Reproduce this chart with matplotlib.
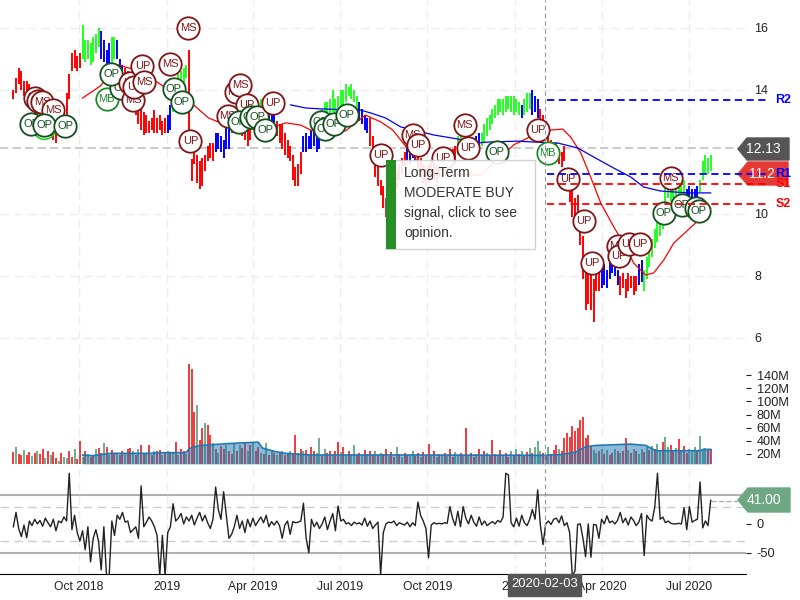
import matplotlib
matplotlib.use("Agg")
import matplotlib.pyplot as plt
import matplotlib.dates as mdates
from matplotlib.patches import Polygon, Rectangle
import numpy as np
import pandas as pd

plt.rcParams['font.family'] = ['Liberation Sans', 'DejaVu Sans']

# (low, high) of each bar, left to right
price_bars = [
    (13.7,14.0),(13.9,14.4),(14.2,14.7),
    (14.0,14.6),(13.8,14.3),(13.9,14.3),(13.7,14.2),
    (13.6,14.0),(13.2,13.8),(13.1,13.7),(12.9,13.5),(12.7,13.4),(12.6,13.2),(12.7,13.3),(12.5,13.2),(12.4,13.1),
    (12.3,13.0),(12.5,13.1),(12.6,13.2),(12.9,13.4),
    (13.2,13.9),(13.7,14.5),
    (14.6,15.2),(14.7,15.3),(14.6,15.1),(14.7,15.2),
    (15.0,16.1),
    (14.9,15.6),(15.0,15.6),(14.8,15.5),(14.9,15.7),(15.2,15.8),
    (15.4,16.0),(15.0,15.9),(14.9,15.6),(14.7,15.3),
    (14.8,15.5),(14.8,15.7),(15.0,15.7),(15.0,15.6),
    (14.3,15.0),(14.2,14.8),(14.0,14.7),
    (13.7,14.6),(13.5,14.2),(13.3,14.0),(13.2,13.8),(12.9,13.7),(12.7,13.4),(12.55,13.3),(12.6,13.2),(12.6,13.0),(12.7,13.1),(12.6,13.35),(12.6,13.1),(12.7,13.2),(12.55,13.0),(12.6,13.1),
    (12.6,13.2),(12.7,13.5),
    (13.3,14.0),(13.9,14.4),
    (14.1,14.5),(14.0,14.6),(14.2,14.7),(14.4,14.8),
    (12.7,15.3),
    (11.06,11.77),
    (11.6,12.0),(11.0,11.9),(10.8,11.7),(10.9,11.8),(11.4,11.9),
    (11.7,12.2),(11.8,12.3),(11.7,12.3),
    (12.0,12.6),(12.1,12.6),(12.0,12.5),(11.8,12.4),(12.1,13.0),(12.1,12.9),
    (12.6,13.2),(12.8,13.4),(12.9,13.5),(12.7,13.3),(12.5,13.2),(12.4,13.0),(12.2,12.9),(12.4,13.0),
    (12.7,13.3),(12.9,13.4),(13.1,13.6),(13.1,13.7),(13.2,13.7),(13.0,13.5),(12.8,13.4),
    (12.8,13.3),(12.7,13.2),(12.5,13.0),(12.3,12.9),
    (12.1,12.9),(11.9,12.6),(11.8,12.4),(11.7,12.2),(11.1,11.9),(10.9,11.5),(10.9,11.6),
    (11.3,12.0),
    (12.0,12.5),(12.0,12.6),(12.1,12.5),(12.1,12.7),(12.2,13.0),(12.0,12.6),(12.1,12.7),
    (12.8,13.4),(13.1,13.6),(13.2,13.6),(13.1,13.7),(13.3,14.0),(13.2,13.7),(13.3,13.8),(13.3,14.0),(13.4,14.0),
    (13.6,14.2),(13.8,14.1),(13.7,14.2),(13.6,14.0),(13.3,13.8),
    (13.0,13.6),(12.9,13.4),(12.7,13.2),(12.6,13.1),
    (12.2,13.1),(11.9,12.5),
    (11.2,11.7),(10.9,11.5),(10.6,11.1),(10.2,10.9),(9.9,10.5),
    (10.0,10.7),(10.1,10.8),(10.3,11.0),
    (10.8,11.4),(11.1,11.6),(11.3,11.8),(11.5,12.0),(11.7,12.3),(11.6,12.1),(11.8,12.4),(11.7,12.3),(11.4,12.0),(11.2,11.8),(11.0,11.6),(10.9,11.5),(11.0,11.6),(11.2,11.7),(11.1,11.6),(11.0,11.6),(11.2,11.8),(11.4,11.9),(11.3,11.8),(11.4,11.9),(11.5,12.0),(11.6,12.1),(11.6,12.2),
    (11.9,12.5),(12.0,12.5),(11.9,12.4),
    (12.0,12.4),(11.8,12.3),(11.9,12.4),(12.0,12.4),(12.1,12.5),(12.2,12.6),
    (12.2,12.6),(12.3,12.9),(12.5,13.1),(12.7,13.2),(12.9,13.4),(13.1,13.5),(13.2,13.7),(13.3,13.7),
    (13.2,13.7),(13.3,13.8),(13.4,13.8),(13.3,13.8),(13.2,13.8),(13.3,13.7),(13.2,13.6),(13.1,13.5),(13.2,13.7),(13.3,13.9),(13.4,13.9),(13.2,14.0),(13.3,13.8),(13.1,13.7),
    (12.9,13.4),(12.7,13.2),(12.5,13.0),
    (12.1,12.7),(11.8,12.4),(11.7,12.2),(11.8,12.3),(11.6,12.1),(11.5,12.0),(11.7,12.2),
    (10.8,11.3),(10.4,11.1),(9.9,10.9),(9.6,10.5),(9.9,10.6),
    (9.0,9.7),(7.9,9.3),
    (6.9,8.4),(7.1,8.1),(6.9,8.2),(6.5,7.9),
    (7.5,8.3),(7.5,8.2),(7.6,8.3),(7.7,8.4),(7.6,8.2),
    (7.9,8.6),(8.1,8.8),(8.0,8.4),(7.7,8.2),
    (7.4,8.0),(7.6,8.1),(7.3,7.9),(7.5,8.1),(7.6,8.0),(7.4,8.0),(7.5,8.0),
    (7.7,8.4),(7.8,8.5),(7.5,8.2),
    (7.9,8.6),(8.3,8.9),(8.6,9.2),
    (8.9,9.5),(9.1,9.7),(9.3,9.9),(9.5,10.0),
    (10.4,10.9),(10.5,11.0),(10.4,10.8),(10.5,11.0),(10.6,11.0),(10.4,10.9),(10.5,11.0),(10.6,11.1),
    (10.4,10.8),(10.5,10.9),(10.4,10.8),(10.5,10.8),(10.5,10.9),
    (10.7,11.1),(11.1,11.7),
    (11.3,11.9),(11.3,11.8),(11.4,11.9),
]
# colour of the bars as runs
bar_runs = [
    ('r',26),('g',7),('b',4),('g',2),('b',3),('r',16),('b',2),('g',6),('r',10),('b',6),('r',10),
    ('g',4),('b',3),('r',10),('b',7),('g',14),('b',4),('r',14),('b',4),('r',15),('g',3),('b',6),
    ('g',15),('b',1),('g',3),('b',3),('r',23),('b',7),('r',7),('b',2),('g',16),('b',5),('g',5),
]

# moving averages, bar number and price
red_ma_bar = [26,32.7,39.1,45.9,54.5,60.9,67.7,73.3,77.8,85.3,91,96.6,102.3,107.9,112.4,124.8,128.6,132.3,138,142.5,145.5,153,160.5,168,175.6,183,188,193.2,197,202,206.4,209.4,213.2,216.9,220.7,225.6,230.8,233,237.6,240.6,244.4,248.1,253.4,258.3,262]
red_ma = [13.74,14.13,14.81,14.65,14.23,13.84,13.52,13.1,12.94,12.87,12.71,12.77,12.94,12.87,12.68,12.68,12.94,13.19,12.97,12.71,12.39,11.58,11.26,11.26,11.26,11.84,12.23,12.45,12.71,12.71,12.74,12.48,11.97,11.19,10.35,9.58,8.84,8.42,8.03,8.1,8.52,9.06,9.48,9.87,10.19]
blue_ma_bar = [104.1,109.8,115.4,130.5,134.2,139.8,145.5,157.9,166.9,174.4,178.2,189.5,195.5,204.5,212,218,225.6,232,236.8,243.2,253.4,262]
blue_ma = [13.52,13.42,13.39,13.35,13.26,13.1,12.81,12.55,12.42,12.29,12.32,12.35,12.32,12.29,12.13,11.84,11.48,11.19,10.87,10.74,10.68,10.68]

# opinion badges, in drawing order
badge_bar = [8.3,9.4,10.9,15,6.8,11.7,19.5,65.8,66.5,59,60.2,63.2,35,40.6,36.8,45.1,44,45.5,48.5,49.2,83.5,85.3,87.6,80.5,84.6,89.1,91.7,94.7,97.4,115.4,116.9,120.3,125.2,138,150,151.9,161.3,169.5,170.7,181.6,197,200.8,208.3,214.3,217.3,227,227.4,231.2,235.3,244.4,247,251.1,256.4,257.5]
badge_price = [13.74,13.65,13.61,13.35,12.9,12.87,12.84,16,12.35,14.84,14.03,13.61,13.71,14.06,14.52,13.68,14.23,14.1,14.77,14.26,13.94,14.16,13.52,13.16,12.97,13.13,13.13,12.71,13.58,12.97,12.74,12.9,13.19,11.9,12.55,12.23,11.81,12.87,12.13,12.0,12.71,11.97,11.13,9.77,8.42,8.97,8.65,9.03,9.03,10.03,11.16,10.29,10.19,10.1]
badge_label = ['MS','MS','MS','MS','OP','OP','OP','MS','UP','MS','OP','OP','MB','OP','OP','MS','UP','UP','UP','MS','MS','MS','UP','MS','OP','OP','OP','OP','UP','OP','OP','OP','OP','UP','MS','UP','UP','MS','UP','OP','UP','MB','UP','UP','UP','MS','UP','UP','UP','OP','MS','OP','OP','OP']

# volume in millions
volume = [
    23,31,20,19,26,18,23,17,21,25,
    20,27,14,24,18,23,14,10,21,16,
    14,25,16,28,12,39,15,24,20,16,
    18,27,29,22,36,31,18,26,20,22,
    18,24,20,28,29,25,19,28,34,22,
    20,33,18,24,25,26,19,22,24,21,
    23,38,19,27,25,20,157,149,84,94,
    42,60,67,64,49,36,28,22,32,27,
    34,24,20,36,25,34,29,38,24,33,
    36,25,30,22,20,36,19,24,22,18,
    21,24,18,20,25,22,49,21,28,24,
    26,18,30,25,21,44,19,28,22,24,
    20,25,38,23,30,18,24,20,33,19,
    22,18,26,20,25,19,24,18,21,20,
    27,17,23,15,31,20,16,22,18,19,
    24,17,21,16,23,18,35,19,25,16,
    20,18,22,17,27,15,23,19,21,18,
    60,17,21,16,20,28,18,24,22,19,
    41,20,17,26,18,22,16,24,19,27,
    20,25,18,23,29,21,31,40,24,21,
    18,30,20,26,33,28,25,45,52,46,
    62,55,60,72,76,44,49,30,26,22,
    24,28,20,26,18,22,27,24,21,25,
    44,26,22,28,24,20,27,23,30,26,
    32,28,35,24,38,46,30,34,24,29,
    43,26,32,22,28,24,30,25,47,27,
    29,26,28,
]
volume_sides = (
    "rgrrgrrgrg" "rrgrgrrgrg" "grrgrrgrgr" "rgrrgrgrrg" "rrgrrgrgrr"
    "grrgrrgrgr" "grgrrgrrrg" "rrgrrgrgrr" "grrgrgrrgr" "grrgrgrgrg"
    "rgrrgrrgrg" "rgrrggrgrr" "grrgrgrggr" "rgrgrrgrgr" "rgrrgrgrrg"
    "grrgrrrgrg" "rgrgrrggrg" "rgrrgrgrgr" "rrgrgrrgrg" "rgrrgrgggr"
    "rgrrrgrrrr" "rrrrrrrrgg" "rgrgrrgrgr" "rgrgrggrgr" "grggrggrrg"
    "rgrrgggrgg" "grr"
)
vol_ma_bar = [26,29.7,36.5,51.5,57,64.7,66.5,70.3,81.6,92,93.6,98.5,102.3,111.7,145.5,200,205.6,211.3,215,218.8,232,237.6,239.5,241.4,258.3,259,262]
vol_ma = [18.5,17.5,21,21,22,22,29,33,36,38,29,23.5,21,18.5,18.5,18,19,23,31,33,35,33,29,25,25,27,27]

# oscillator
osc = [
    -5,20,-8,-22,-2,-24,5,-3,8,0,
    6,-4,10,2,-5,8,-12,5,2,12,
    5,88,-10,15,-15,-30,-12,-45,-5,-66,
    -25,-10,-30,-80,-5,-90,-90,5,-20,15,
    8,20,3,5,-15,-10,-5,-25,66,-5,
    3,12,5,-5,-20,-90,-20,-90,-15,-5,
    35,5,10,18,0,12,5,15,-2,10,
    20,5,15,2,-8,8,64,25,8,56,
    15,-25,-18,-5,15,-8,5,-15,8,-5,
    10,-3,5,12,2,15,-5,4,-2,5,
    -3,-25,-2,5,-18,4,2,3,5,36,
    -25,-50,8,-5,3,-8,0,12,-10,5,
    18,-12,31,5,8,0,2,-3,3,0,
    2,-2,10,-4,5,-8,-2,3,-88,-15,
    0,3,2,5,-3,2,0,-2,3,-5,
    2,-3,38,15,5,-8,-59,-2,2,0,
    1,0,2,1,30,10,-3,22,-5,30,
    10,0,15,3,-4,12,-2,5,-3,1,
    4,0,6,3,12,88,85,2,-5,10,
    -4,15,2,-3,8,25,8,59,-2,-36,
    0,5,-1,8,10,2,14,-3,2,-15,
    -90,-82,-1,0,-25,-57,0,-58,-1,-2,
    -25,8,0,14,2,5,0,6,20,2,
    10,-2,12,6,-3,3,18,-55,15,8,
    5,30,88,8,12,2,5,1,0,0,
    1,0,28,-10,30,3,6,8,73,-7,
    5,-3,41,
]

price_ticks = [6, 8, 10, 14, 16]
volume_ticks = [20, 40, 60, 80, 100, 120, 140]
osc_ticks = [0, -50]
date_ticks = ['2018-10-01','2019-01-01','2019-04-01','2019-07-01','2019-10-01','2020-01-01','2020-04-01','2020-07-01']
date_labels = ['Oct 2018','2019','Apr 2019','Jul 2019','Oct 2019','2020','Apr 2020','Jul 2020']

last_price = 12.13
pivot_names = ['R2', 'R1', 'S1', 'S2']
pivot_levels = [13.67, 11.29, 10.97, 10.32]
pivot_colors = ['blue', 'blue', 'red', 'red']
signal_bar = 199.6

assert len(price_bars) == len(volume) == len(osc) == len(volume_sides) == sum(n for c, n in bar_runs)

n = len(price_bars)
bar_dates = mdates.date2num(pd.date_range('2018-07-24', '2020-07-24', periods=n))


def at(bars):
    return np.interp(bars, np.arange(n), bar_dates)


W, H = 800.0, 600.0
fig = plt.figure(figsize=(8, 6), dpi=100)


def panel(top, bottom):
    a = fig.add_axes([0, 1 - bottom / H, 746 / W, (bottom - top) / H])
    a.set_xlim(mdates.date2num(pd.Timestamp('2018-07-10')), mdates.date2num(pd.Timestamp('2020-08-30')))
    a.patch.set_alpha(0)
    for s in a.spines.values():
        s.set_visible(False)
    a.yaxis.tick_right()
    a.set_xticks(mdates.date2num(pd.to_datetime(date_ticks)))
    a.set_xticklabels([])
    a.tick_params(axis='x', length=0)
    a.grid(axis='x', color='#ececec', lw=1, ls=(0, (6, 4)))
    a.set_axisbelow(True)
    return a


# price panel
ax = panel(0, 352)
ax.set_ylim(5.548, 16.903)
ax.set_yticks(price_ticks)
ax.tick_params(axis='y', length=0, pad=6, labelsize=9, colors='#222222')
ax.grid(axis='y', color='#ececec', lw=1, ls=(0, (6, 4)))
ax.axhline(last_price, color='#cccccc', lw=1.5, ls=(0, (4, 2)))

run_colors = {'r': '#ff0000', 'g': '#22ff22', 'b': '#0000ff'}
colors = []
for c, count in bar_runs:
    colors += [run_colors[c]] * count
lows = [b[0] for b in price_bars]
highs = [b[1] for b in price_bars]
ax.vlines(bar_dates, lows, highs, colors=colors, lw=1.4, zorder=2)
ax.plot(at(red_ma_bar), red_ma, color='#ff0000', lw=0.9, zorder=3)
ax.plot(at(blue_ma_bar), blue_ma, color='#0000ee', lw=0.9, zorder=3)

badge_color = {'MS': '#7f1416', 'UP': '#7f1416', 'OP': '#14501e', 'MB': '#1e8a2a'}
ax.scatter(at([11.7]), [12.77], s=260, facecolor='none', edgecolor='#22cc22', lw=1.2, zorder=4)
for k, (b, p, lab) in enumerate(zip(badge_bar, badge_price, badge_label)):
    z = 5 + k * 0.01
    ax.scatter(at([b]), [p], s=260, facecolor='white', edgecolor=badge_color[lab], lw=1.3, zorder=z)
    ax.text(at(b), p, lab, color=badge_color[lab], fontsize=8, ha='center', va='center', zorder=z + 0.001)

start = at(signal_bar)

# volume panel
ax_vol = panel(352, 464)
ax_vol.set_ylim(4.8, 175)
ax_vol.set_yticks(volume_ticks)
ax_vol.set_yticklabels([f'{v}M' for v in volume_ticks])
ax_vol.tick_params(axis='y', length=3.6, width=0.8, pad=4, labelsize=9.2, colors='#222222')
side_colors = ['#ee2222' if s == 'r' else '#5fa07f' for s in volume_sides]
ax_vol.vlines(bar_dates, 4.8, volume, colors=side_colors, lw=1.25, zorder=2)
ax_vol.fill_between(at(vol_ma_bar), 4.8, vol_ma, color='#1f77b4', alpha=0.5, lw=0, zorder=3)
ax_vol.plot(at(vol_ma_bar), vol_ma, color='#1f77b4', lw=1.2, zorder=4)

# oscillator panel
ax_osc = panel(464, 574)
ax_osc.set_ylim(-87, 104)
ax_osc.set_yticks(osc_ticks)
ax_osc.set_yticklabels([str(v) for v in osc_ticks])
ax_osc.tick_params(axis='y', length=3.6, width=0.8, pad=4, labelsize=9.2, colors='#222222')
for level in [50, -50]:
    ax_osc.axhline(level, color='#b0b0b0', lw=1.5)
for level in [30, -30]:
    ax_osc.axhline(level, color='#cccccc', lw=1, ls=(0, (6, 4)))
ax_osc.plot(bar_dates, osc, color='#222222', lw=1.0, zorder=3)
ax_osc.spines['bottom'].set_visible(True)
ax_osc.spines['bottom'].set_color('black')
ax_osc.set_xticklabels(date_labels, fontsize=8.7, color='#222222')
ax_osc.tick_params(axis='x', pad=5)

for a in (ax, ax_vol, ax_osc):
    a.axvline(start, color='#999999', lw=0.8, ls=(0, (4, 3)), zorder=8)

# overlay in pixels: value tags, tooltip, date box
top = fig.add_axes([0, 0, 1, 1])
top.set_xlim(0, W)
top.set_ylim(H, 0)
top.axis('off')
top.patch.set_alpha(0)

top.add_patch(Polygon([(738, 149), (747, 138), (789, 138), (789, 160), (747, 160)], color='#555555'))
top.text(763.5, 149, f'{last_price:.2f}', color='white', fontsize=10, ha='center', va='center')
top.add_patch(Polygon([(738, 174), (748, 162), (788, 162), (788, 185), (748, 185)], color='#e53935'))
top.text(749, 174, '11.2', color='white', fontsize=10, ha='left', va='center')
top.add_patch(Polygon([(738, 500), (748, 488), (790, 488), (790, 512), (748, 512)], color='#6da883'))
top.text(764, 500.5, '41.00', color='white', fontsize=10, ha='center', va='center')
top.plot([711, 738], [501, 501], color='#aaaaaa', lw=0.9, ls=(0, (4, 2)))

# pivots run over the tags, up to their labels
pivot_end = mdates.date2num(pd.Timestamp('2020-09-24'))
for name, level, col in zip(pivot_names, pivot_levels, pivot_colors):
    top.plot([at(200.6), pivot_end], [level, level], color=col, lw=1.3, ls=(0, (4, 2.5)),
             transform=ax.transData, clip_on=False)
    top.text(pivot_end + 6, level, name, color=col, fontsize=9, fontweight='bold', ha='left', va='center',
             transform=ax.transData, clip_on=False)

top.add_patch(Rectangle((386, 160), 149, 89, facecolor='white', edgecolor='#cccccc', lw=1, alpha=0.9))
top.add_patch(Rectangle((386, 160), 10, 89, facecolor='#1a8a1a', lw=0, alpha=0.95))
for y, line in zip([173, 193, 213, 233], ['Long-Term', 'MODERATE BUY', 'signal, click to see', 'opinion.']):
    top.text(404, y, line, color='#333333', fontsize=10, ha='left', va='center')

top.add_patch(Rectangle((508, 574), 73, 22, color='#555555'))
top.text(544.5, 584, '2020-02-03', color='white', fontsize=9.4, ha='center', va='center')

fig.savefig('out.png', dpi=100)
